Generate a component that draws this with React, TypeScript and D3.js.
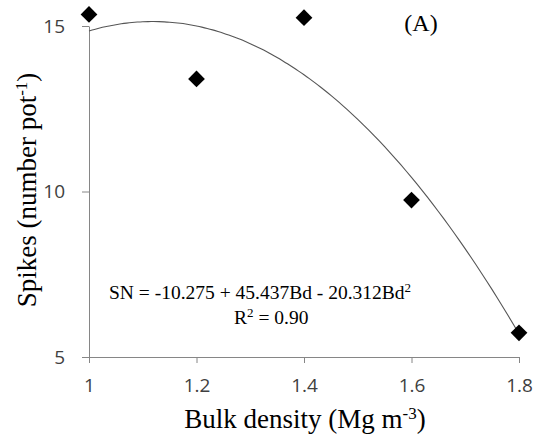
import React, { useRef, useEffect } from "react";
import * as d3 from "d3";

const bulkDensity = [1.0, 1.2, 1.4, 1.6, 1.8];
const spikes = [15.35, 13.4, 15.25, 9.74, 5.73];
const xTicks = [1, 1.2, 1.4, 1.6, 1.8];
const yTicks = [5, 10, 15];
// fitted quadratic, as printed on the chart
const coef = [-10.275, 45.437, -20.312];

const W = 535;
const H = 436;

export default function App() {
  const svgRef = useRef<SVGSVGElement>(null);

  useEffect(() => {
    const svg = d3.select(svgRef.current);
    svg.selectAll("*").remove();

    const x = d3.scaleLinear().domain([1, 1.8]).range([89, 519]);
    const y = d3.scaleLinear().domain([5, 15]).range([357, 26]);
    const axisColor = "#868686";
    const tickFont = "'Open Sans', 'DejaVu Sans', sans-serif";
    const serif = "'Liberation Serif', 'Times New Roman', serif";

    const xAxis = svg
      .append("g")
      .attr("transform", `translate(0,${y(5)})`)
      .call(d3.axisBottom(x).tickValues(xTicks).tickSize(6).tickSizeOuter(0).tickFormat(d3.format("")));
    const yAxis = svg
      .append("g")
      .attr("transform", `translate(${x(1)},0)`)
      .call(d3.axisLeft(y).tickValues(yTicks).tickSize(7).tickSizeOuter(0));

    [xAxis, yAxis].forEach((g) => {
      g.selectAll("path, line").attr("stroke", axisColor);
      g.selectAll("text")
        .attr("fill", "#404040")
        .style("font-family", tickFont)
        .style("font-size", "19px");
    });
    xAxis.selectAll("text").attr("y", 35).attr("dy", 0);
    yAxis.selectAll("text").attr("x", -24);

    // trend curve
    const curveX = d3.range(1, 1.8001, 0.01);
    const line = d3
      .line<number>()
      .x((d) => x(d))
      .y((d) => y(coef[0] + coef[1] * d + coef[2] * d * d))
      .curve(d3.curveMonotoneX);
    svg
      .append("path")
      .datum(curveX)
      .attr("d", line)
      .attr("fill", "none")
      .attr("stroke", "#555")
      .attr("stroke-width", 1.1);

    // points
    const diamond = d3.symbol().type(d3.symbolSquare).size(140);
    svg
      .selectAll(".pt")
      .data(bulkDensity)
      .join("path")
      .attr("class", "pt")
      .attr("d", diamond)
      .attr("transform", (d, i) => `translate(${x(d)},${y(spikes[i])}) rotate(45)`)
      .attr("fill", "#000");

    // equation
    const eq = svg
      .append("text")
      .attr("x", 109)
      .attr("y", 299)
      .style("font-family", serif)
      .style("font-size", "19.5px")
      .attr("fill", "#000");
    eq.append("tspan").text("SN = -10.275 + 45.437Bd - 20.312Bd");
    eq.append("tspan").attr("dy", -7).style("font-size", "13px").text("2");

    const r2 = svg
      .append("text")
      .attr("x", 234)
      .attr("y", 324)
      .style("font-family", serif)
      .style("font-size", "19.5px");
    r2.append("tspan").text("R");
    r2.append("tspan").attr("dy", -7).style("font-size", "13px").text("2");
    r2.append("tspan").attr("dy", 7).text(" = 0.90");

    // panel label
    svg
      .append("text")
      .attr("x", 421)
      .attr("y", 31)
      .attr("text-anchor", "middle")
      .style("font-family", serif)
      .style("font-size", "24px")
      .text("(A)");

    // axis titles
    const xl = svg
      .append("text")
      .attr("x", 305)
      .attr("y", 428)
      .attr("text-anchor", "middle")
      .style("font-family", serif)
      .style("font-size", "27px");
    xl.append("tspan").text("Bulk density (Mg m");
    xl.append("tspan").attr("dy", -9).style("font-size", "17px").text("-3");
    xl.append("tspan").attr("dy", 9).text(")");

    const yl = svg
      .append("text")
      .attr("transform", "translate(36,190) rotate(-90)")
      .attr("text-anchor", "middle")
      .style("font-family", serif)
      .style("font-size", "27px");
    yl.append("tspan").text("Spikes (number pot");
    yl.append("tspan").attr("dy", -9).style("font-size", "17px").text("-1");
    yl.append("tspan").attr("dy", 9).text(")");
  }, []);

  return (
    <div style={{ position: "absolute", left: 0, top: 0, width: W, height: H, overflow: "hidden" }}>
      <svg ref={svgRef} width={W} height={H} style={{ display: "block" }}></svg>
    </div>
  );
}
